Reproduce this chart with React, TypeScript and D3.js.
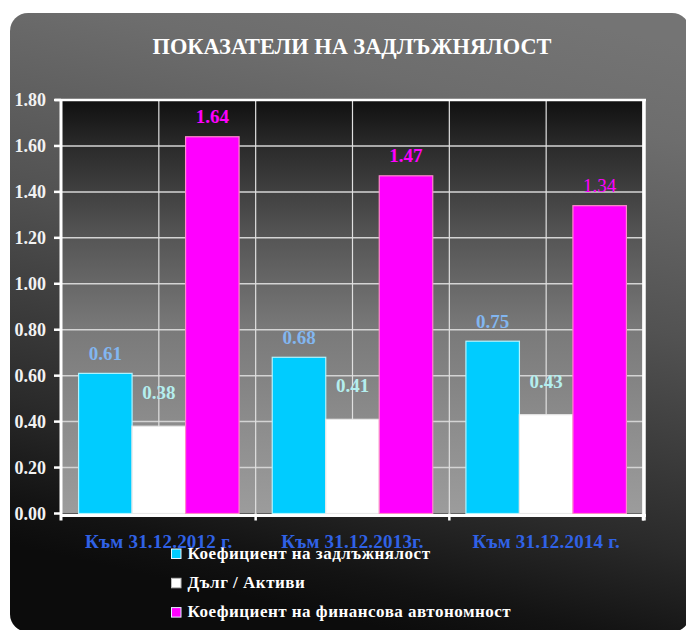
import React from 'react';
import * as d3 from 'd3';

const title = 'ПОКАЗАТЕЛИ НА ЗАДЛЪЖНЯЛОСТ';
const categories = ['Към 31.12.2012 г.', 'Към 31.12.2013г.', 'Към 31.12.2014 г.'];
const seriesNames = ['Коефициент на задлъжнялост', 'Дълг / Активи', 'Коефициент на финансова автономност'];
const debtRatio = [0.61, 0.68, 0.75];
const debtToAssets = [0.38, 0.41, 0.43];
const autonomy = [1.64, 1.47, 1.34];
const yTicks = [0, 0.2, 0.4, 0.6, 0.8, 1.0, 1.2, 1.4, 1.6, 1.8];

const seriesValues = [debtRatio, debtToAssets, autonomy];
const fills = ['#00ccff', '#ffffff', '#ff00ff'];
const strokes = ['#b0f4ff', '#e8e8e8', '#ff88cc'];
const labelColors = ['#82b6f0', '#b4eeee', '#ff00ff'];
const labelOffsets = [13, 27, 13.5];

const W = 686;
const H = 630;
const plot = { left: 62, right: 643, top: 100, bottom: 513.5 };
const serif = '"Liberation Serif", "Times New Roman", serif';

export default function App() {
  const x = d3.scaleBand<string>().domain(categories).range([plot.left, plot.right]).padding(0);
  const xi = d3
    .scaleBand<number>()
    .domain(d3.range(seriesNames.length))
    .range([0, x.bandwidth()])
    .paddingInner(0)
    .paddingOuter(0.31);
  const y = d3.scaleLinear().domain([0, 1.8]).range([plot.bottom, plot.top]);

  const vGrid: number[] = [];
  categories.forEach((c) => {
    vGrid.push(x(c)! + x.bandwidth() / 2);
    vGrid.push(x(c)! + x.bandwidth());
  });

  return (
    <svg width={W} height={H} style={{ position: 'absolute', left: 0, top: 0 }} fontFamily={serif}>
      <defs>
        <linearGradient id="panelGrad" gradientUnits="userSpaceOnUse" x1={540} y1={13} x2={400} y2={632}>
          <stop offset="0" stopColor="#747474" />
          <stop offset="0.15" stopColor="#6d6d6d" />
          <stop offset="0.45" stopColor="#525252" />
          <stop offset="0.78" stopColor="#2a2a2a" />
          <stop offset="0.93" stopColor="#131313" />
          <stop offset="1" stopColor="#0c0c0c" />
        </linearGradient>
        <linearGradient id="plotGrad" x1="0" y1="0" x2="0" y2="1">
          <stop offset="0" stopColor="#101010" />
          <stop offset="0.11" stopColor="#2a2a2a" />
          <stop offset="0.33" stopColor="#555555" />
          <stop offset="0.56" stopColor="#7a7a7a" />
          <stop offset="0.78" stopColor="#8c8c8c" />
          <stop offset="1" stopColor="#9c9c9c" />
        </linearGradient>
      </defs>
      <rect x={0} y={0} width={W} height={H} fill="#ffffff" />
      <rect x={10} y={13} width={680} height={619} rx={18} ry={18} fill="url(#panelGrad)" />

      <text x={352} y={54} fill="#ffffff" fontWeight="bold" fontSize={24} textAnchor="middle" textLength={399} lengthAdjust="spacingAndGlyphs">
        {title}
      </text>

      {/* plot area */}
      <rect x={plot.left} y={plot.top} width={plot.right - plot.left} height={plot.bottom - plot.top} fill="url(#plotGrad)" />

      {/* gridlines */}
      {yTicks.slice(1).map((t) => (
        <line key={'hg' + t} x1={plot.left} x2={plot.right} y1={y(t)} y2={y(t)} stroke="#d4d4d4" strokeWidth={1.5} />
      ))}
      {vGrid.map((v, i) => (
        <line key={'vg' + i} x1={v} x2={v} y1={plot.top} y2={plot.bottom} stroke="#e0e0e0" strokeWidth={1.2} />
      ))}

      {/* bars */}
      {categories.map((c, ci) =>
        seriesValues.map((vals, si) => {
          const bx = x(c)! + xi(si)!;
          const by = y(vals[ci]);
          return (
            <rect
              key={c + si}
              x={bx}
              y={by}
              width={xi.bandwidth()}
              height={plot.bottom - by}
              fill={fills[si]}
              stroke={strokes[si]}
              strokeWidth={1.2}
            />
          );
        })
      )}

      {/* frame & axes */}
      <line x1={55} x2={646} y1={plot.top} y2={plot.top} stroke="#ffffff" strokeWidth={2.5} />
      <line x1={644} x2={644} y1={plot.top} y2={plot.bottom + 7} stroke="#ffffff" strokeWidth={3.5} />
      <line x1={61} x2={61} y1={plot.top} y2={plot.bottom + 7} stroke="#ffffff" strokeWidth={3} />
      <line x1={60} x2={646} y1={plot.bottom + 2} y2={plot.bottom + 2} stroke="#ffffff" strokeWidth={3} />
      {yTicks.map((t) => (
        <line key={'yt' + t} x1={54} x2={61} y1={y(t)} y2={y(t)} stroke="#ffffff" strokeWidth={2.5} />
      ))}
      {categories.map((c) => (
        <line key={'xt' + c} x1={x(c)! + x.bandwidth()} x2={x(c)! + x.bandwidth()} y1={plot.bottom} y2={plot.bottom + 7} stroke="#ffffff" strokeWidth={2.5} />
      ))}

      {/* y tick labels */}
      {yTicks.map((t) => (
        <text key={'yl' + t} x={46} y={y(t) + 6.3} fill="#f2f2f2" fontWeight="bold" fontSize={18} textAnchor="end">
          {t.toFixed(2)}
        </text>
      ))}

      {/* value labels */}
      {categories.map((c, ci) =>
        seriesValues.map((vals, si) => (
          <text
            key={'vl' + c + si}
            x={x(c)! + xi(si)! + xi.bandwidth() / 2}
            y={y(vals[ci]) - labelOffsets[si]}
            fill={labelColors[si]}
            fontWeight={si === 2 && ci === 2 ? 'normal' : 'bold'}
            fontSize={19}
            textAnchor="middle"
          >
            {vals[ci].toFixed(2)}
          </text>
        ))
      )}

      {/* x labels */}
      {categories.map((c) => (
        <text key={'xl' + c} x={x(c)! + x.bandwidth() / 2} y={547.5} fill="#3062e6" fontWeight="bold" fontSize={19} letterSpacing={0.2} textAnchor="middle">
          {c}
        </text>
      ))}

      {/* legend */}
      {seriesNames.map((s, i) => (
        <g key={'lg' + i} transform={`translate(171, ${549 + i * 29.3})`}>
          <rect x={0.5} y={0} width={9.5} height={9.5} fill={fills[i]} stroke={i === 1 ? '#bbbbbb' : '#e6f6ff'} strokeWidth={1} />
          <text x={16.5} y={9.5} fill="#ffffff" fontWeight="bold" fontSize={17} letterSpacing={0.5}>
            {s}
          </text>
        </g>
      ))}
    </svg>
  );
}
